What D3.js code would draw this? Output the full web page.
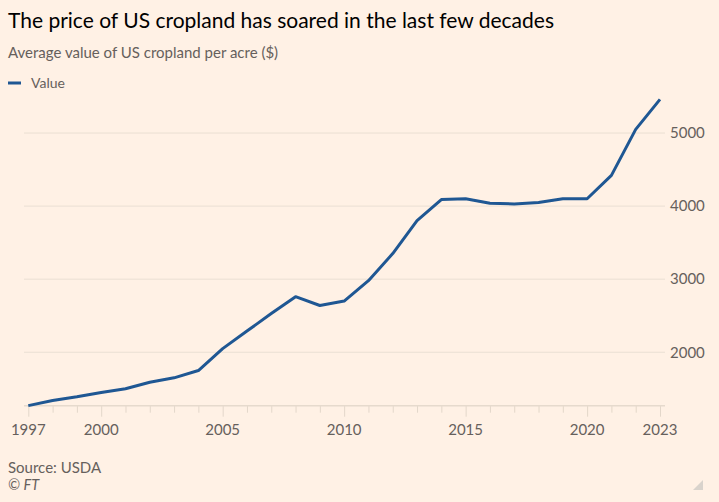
<!DOCTYPE html>
<html><head><meta charset="utf-8">
<script src="https://cdn.jsdelivr.net/npm/d3@7"></script>
<style>
html,body{margin:0;padding:0;background:#FFF1E5;}
svg{display:block;}
text{font-family:"Lato","Noto Sans",sans-serif;}
</style></head>
<body>
<svg id="chart" width="719" height="502"></svg>
<script>
const years = [1997,1998,1999,2000,2001,2002,2003,2004,2005,2006,2007,2008,2009,2010,2011,2012,2013,2014,2015,2016,2017,2018,2019,2020,2021,2022,2023];
const values = [1270,1340,1390,1450,1500,1590,1650,1750,2050,2290,2530,2760,2640,2700,2980,3350,3800,4090,4100,4040,4030,4050,4100,4100,4420,5050,5460];
const yTicks = [2000,3000,4000,5000];
const xTickLabels = [1997,2000,2005,2010,2015,2020,2023];

const svg = d3.select("#chart");
svg.append("rect").attr("width",719).attr("height",502).attr("fill","#FFF1E5");

const x = d3.scaleLinear().domain([1997,2023]).range([28.3,660]);
const y = d3.scaleLinear().domain([1270,5460]).range([405.6,99.4]);

// title etc
svg.append("text").attr("x",8).attr("y",28).attr("font-size",21).attr("fill","#000")
  .text("The price of US cropland has soared in the last few decades");
svg.append("text").attr("x",8).attr("y",58).attr("font-size",15).attr("fill","#66605c")
  .text("Average value of US cropland per acre ($)");
svg.append("line").attr("x1",8).attr("x2",21).attr("y1",83).attr("y2",83)
  .attr("stroke","#1f5793").attr("stroke-width",3);
svg.append("text").attr("x",31).attr("y",88).attr("font-size",14).attr("fill","#66605c").text("Value");

// gridlines
svg.append("g").selectAll("line").data(yTicks).join("line")
  .attr("x1",24).attr("x2",665).attr("y1",d=>y(d)).attr("y2",d=>y(d))
  .attr("stroke","#eadfd3").attr("stroke-width",1);
svg.append("g").selectAll("text").data(yTicks).join("text")
  .attr("x",670).attr("y",d=>y(d)).attr("dy","0.35em").attr("font-size",15).attr("fill","#66605c")
  .text(d=>d);

// x axis
const xAxis = d3.axisBottom(x).tickValues(years).tickSize(7).tickFormat("");
const gx = svg.append("g").attr("transform","translate(0,405.7)").call(xAxis);
gx.select(".domain").remove();
gx.selectAll(".tick line").attr("stroke","#e3d7ca")
  .attr("y2",d=>xTickLabels.includes(d)?11:7);
svg.append("line").attr("x1",24).attr("x2",665).attr("y1",405.7).attr("y2",405.7)
  .attr("stroke","#e6dacd").attr("stroke-width",1.5);
svg.append("g").selectAll("text").data(xTickLabels).join("text")
  .attr("x",d=>x(d)).attr("y",435).attr("text-anchor","middle").attr("font-size",15).attr("fill","#66605c")
  .text(d=>d);

// line
svg.append("path").datum(years.map((yr,i)=>[yr,values[i]]))
  .attr("fill","none").attr("stroke","#1f5793").attr("stroke-width",3).attr("stroke-linejoin","round")
  .attr("d",d3.line().x(d=>x(d[0])).y(d=>y(d[1])));

// footer
svg.append("text").attr("x",8).attr("y",473).attr("font-size",15).attr("fill","#66605c").text("Source: USDA");
svg.append("text").attr("x",8).attr("y",490).attr("font-size",14.5).attr("font-style","italic").attr("fill","#66605c").text("© FT");
svg.append("path").attr("d","M703,480 L703,490 L693,490 Z").attr("fill","#d9d3cc");
</script>
</body></html>
